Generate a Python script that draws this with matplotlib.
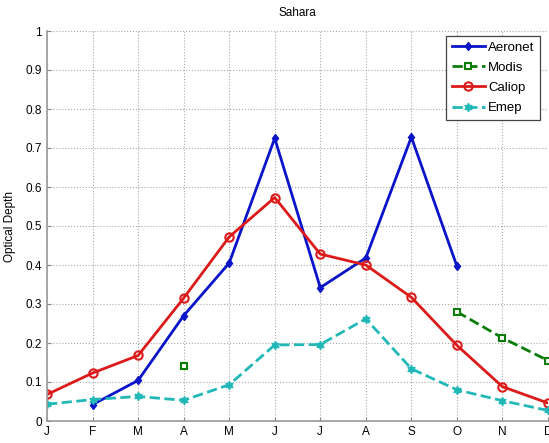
import numpy as np
import matplotlib.pyplot as plt

plt.rcParams['font.family'] = ['Liberation Sans', 'DejaVu Sans']

months = ['J', 'F', 'M', 'A', 'M', 'J', 'J', 'A', 'S', 'O', 'N', 'D']
nan = np.nan
aeronet = [nan, 0.042, 0.104, 0.270, 0.405, 0.725, 0.342, 0.418, 0.728, 0.397, nan, nan]
modis = [nan, nan, nan, 0.142, nan, nan, nan, nan, nan, 0.280, 0.213, 0.155]
caliop = [0.068, 0.123, 0.168, 0.315, 0.472, 0.573, 0.428, 0.400, 0.317, 0.194, 0.088, 0.046]
emep = [0.043, 0.055, 0.063, 0.053, 0.093, 0.195, 0.196, 0.262, 0.134, 0.080, 0.052, 0.027]

x = np.arange(1, 13)

fig = plt.figure(figsize=(5.49, 4.43), dpi=100)
ax = fig.add_axes([47 / 549, 22 / 443, 501 / 549, 390 / 443])

ax.plot(x, aeronet, '-', color='#0a14c8', lw=2, marker='d', ms=4.5,
        label='Aeronet')
ax.plot(x, modis, '--', color='#0b7d0b', lw=2, marker='s', ms=4.5,
        mfc='white', mew=1.5, label='Modis')
ax.plot(x, caliop, '-', color='#dd1a1a', lw=2, marker='o', ms=6,
        mfc='none', mew=1.5, label='Caliop')
ax.plot(x, emep, '--', color='#22b8b8', lw=2, marker=(6, 1, 0), ms=6,
        label='Emep')

ax.set_xlim(1, 12)
ax.set_ylim(0, 1)
ax.set_xticks(x)
ax.set_xticklabels(months)
ax.set_yticks(np.arange(0, 1.01, 0.1))
ax.set_yticklabels(['0', '0.1', '0.2', '0.3', '0.4', '0.5', '0.6', '0.7', '0.8', '0.9', '1'])
ax.tick_params(direction='in', length=3, labelsize=8.5, color='#888888')
ax.grid(True, linestyle=':', color='#aaaaaa', lw=0.8)
for side in ['top', 'right']:
    ax.spines[side].set_visible(False)
for side in ['left', 'bottom']:
    ax.spines[side].set_color('#999999')
    ax.spines[side].set_linewidth(1.2)

ax.set_title('Sahara', fontsize=8.5, pad=11)
ax.set_ylabel('Optical Depth', fontsize=8.5, labelpad=7)

leg = ax.legend(loc='upper right', bbox_to_anchor=(0.99, 0.995), fontsize=9.5,
                fancybox=False, framealpha=1, edgecolor='#444444',
                handlelength=2.5, borderpad=0.45, labelspacing=0.6,
                handletextpad=0.25, borderaxespad=0.2)
leg.get_frame().set_linewidth(0.9)

fig.savefig('out.png', dpi=100)
